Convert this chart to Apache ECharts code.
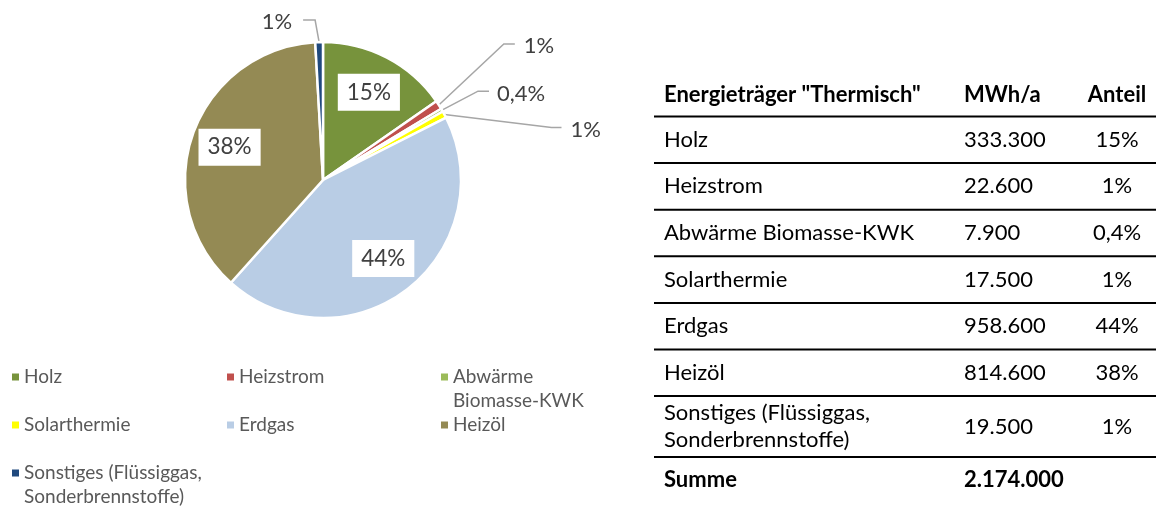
<!DOCTYPE html>
<html>
<head>
<meta charset="utf-8">
<script src="https://cdn.jsdelivr.net/npm/echarts@6/dist/echarts.min.js"></script>
<style>
  html, body { margin: 0; padding: 0; background: #fff; }
  #chart { width: 1156px; height: 509px; }
</style>
</head>
<body>
<div id="chart"></div>
<script>
// ---- data ----
const categories = ['Holz', 'Heizstrom', 'Abwärme Biomasse-KWK', 'Solarthermie', 'Erdgas', 'Heizöl', 'Sonstiges (Flüssiggas, Sonderbrennstoffe)'];
const valuesMWh = [333300, 22600, 7900, 17500, 958600, 814600, 19500];
const shareLabels = ['15%', '1%', '0,4%', '1%', '44%', '38%', '1%'];
const totalMWh = 2174000;
const tableHeaders = ['Energieträger "Thermisch"', 'MWh/a', 'Anteil'];
const totalLabel = 'Summe';
const colors = ['#77933C', '#C0504D', '#9BBB59', '#FFFF00', '#B9CDE5', '#948A54', '#1F497D'];

// ---- styling / layout ----
const FONT = 'Lato, "Open Sans", sans-serif';
const insideLabelIdx = [0, 4, 5];
// leader line: elbow offset from slice edge, horizontal run, gap to text, text vertical shift
const outsideLabelStyle = {
  1: { ex: 65, ey: -61, h: 11, gap: 9, ty: 2 },
  2: { ex: 36, ey: -19, h: 11, gap: 8, ty: 3 },
  3: { ex: 107, ey: 13, h: 10, gap: 9, ty: 2 },
  6: { ex: -4, ey: -22, h: -12, gap: 11, ty: 2 }
};

function fmt(n) { return String(n).replace(/\B(?=(\d{3})+(?!\d))/g, '.'); }

const chart = echarts.init(document.getElementById('chart'), null, { renderer: 'canvas' });

const pieCenter = [323, 180];
const pieR = 138;

const mainData = categories.map((name, i) => {
  const d = { name, value: valuesMWh[i], itemStyle: { color: colors[i] } };
  if (outsideLabelStyle[i]) {
    d.label = { show: true, position: 'outside' };
    d.labelLine = { show: true };
  }
  return d;
});
const labelData = categories.map((name, i) => ({
  name, value: valuesMWh[i],
  label: { show: insideLabelIdx.indexOf(i) >= 0 }
}));

// legend layout: three columns
const legendCols = [12, 227, 441];
const legendRows = { 0: [0, 0], 1: [1, 0], 2: [2, 0], 3: [0, 1], 4: [1, 1], 5: [2, 1], 6: [0, 2] };
const legendRowTop = [365, 413, 461];
const LH = 24;
function legendWrap(name) {
  if (name.indexOf(', ') >= 0) return name.replace(', ', ',\n');
  if (name.length > 16) return name.replace(' ', '\n');
  return name;
}
// square icon sitting on the first text line of a two-line legend entry
const twoLineIcon = 'path://M0,0L0,0M0,8.5L7,8.5L7,15.5L0,15.5ZM7,48L7,48';
const legends = categories.map((name, i) => {
  const [c, r] = legendRows[i];
  const wrapped = legendWrap(name).indexOf('\n') >= 0;
  return {
    data: [name],
    orient: 'vertical',
    left: legendCols[c],
    top: legendRowTop[r],
    padding: 0,
    icon: wrapped ? twoLineIcon : 'rect',
    itemWidth: 7,
    itemHeight: wrapped ? 2 * LH : 7,
    selectedMode: false,
    itemStyle: { borderWidth: 0 },
    formatter: legendWrap,
    textStyle: { fontFamily: FONT, fontSize: 19, color: '#595959', lineHeight: LH }
  };
});

// table
const T = { x1: 654, x2: 1156, textX: 664, valX: 964, shareX: 1117, headerY: 95, firstLine: 116.5, rowH: 46.6, tallRowH: 61, fs: 22 };
const g = [];
function txt(text, x, y, align, bold, lh) {
  g.push({
    type: 'text', silent: true,
    style: {
      text, x, y,
      fontFamily: FONT, fontSize: T.fs, fontWeight: bold ? 'bold' : 'normal',
      fill: '#000', lineHeight: lh || T.fs * 1.2,
      align, verticalAlign: 'middle', textAlign: align, textVerticalAlign: 'middle'
    }
  });
}
function hline(y) {
  g.push({ type: 'line', silent: true, shape: { x1: T.x1, y1: y, x2: T.x2, y2: y }, style: { stroke: '#000', lineWidth: 2 } });
}
txt(tableHeaders[0], T.textX, T.headerY, 'left', true);
txt(tableHeaders[1], T.valX, T.headerY, 'left', true);
txt(tableHeaders[2], T.shareX, T.headerY, 'center', true);
let lineY = T.firstLine;
hline(lineY);
categories.forEach((name, i) => {
  const wrapped = name.indexOf(', ') >= 0;
  const h = wrapped ? T.tallRowH : T.rowH;
  const cy = lineY + h / 2;
  txt(wrapped ? name.replace(', ', ',\n') : name, T.textX, cy, 'left', false, 27);
  txt(fmt(valuesMWh[i]), T.valX, cy, 'left', false);
  txt(shareLabels[i], T.shareX, cy, 'center', false);
  lineY += h;
  hline(lineY);
});
txt(totalLabel, T.textX, lineY + T.rowH / 2, 'left', true);
txt(fmt(totalMWh), T.valX, lineY + T.rowH / 2, 'left', true);

const option = {
  backgroundColor: '#fff',
  animation: false,
  legend: legends,
  graphic: { elements: g },
  series: [
    {
      name: 'Thermisch',
      type: 'pie',
      center: pieCenter,
      radius: [0, pieR],
      startAngle: 90,
      clockwise: true,
      avoidLabelOverlap: false,
      itemStyle: { borderColor: '#fff', borderWidth: 2.5 },
      label: {
        show: false,
        fontFamily: FONT, fontSize: 22, color: '#404040',
        formatter: p => shareLabels[p.dataIndex]
      },
      labelLine: { show: false, length: 10, length2: 10, lineStyle: { color: '#A6A6A6', width: 1.5 } },
      labelLayout: function (p) {
        const s = outsideLabelStyle[p.dataIndex];
        if (!s || !p.labelLinePoints) return {};
        const p0 = p.labelLinePoints[0];
        const p1 = [p0[0] + s.ex, p0[1] + s.ey];
        const p2 = [p1[0] + s.h, p1[1]];
        const right = s.h > 0;
        return {
          x: p2[0] + (right ? s.gap : -s.gap),
          y: p2[1] + s.ty,
          align: right ? 'left' : 'right',
          verticalAlign: 'middle',
          labelLinePoints: [p0, p1, p2]
        };
      },
      emphasis: { disabled: true },
      data: mainData
    },
    {
      name: 'Labels',
      type: 'pie',
      center: pieCenter,
      radius: [54, pieR],
      startAngle: 90,
      clockwise: true,
      silent: true,
      avoidLabelOverlap: false,
      itemStyle: { color: 'rgba(0,0,0,0)', borderWidth: 0 },
      label: {
        position: 'inside',
        fontFamily: FONT, fontSize: 22.5, color: '#404040',
        backgroundColor: '#fff', padding: [7, 9, 6, 9], lineHeight: 24,
        formatter: p => shareLabels[p.dataIndex]
      },
      labelLine: { show: false },
      emphasis: { disabled: true },
      data: labelData
    }
  ]
};
chart.setOption(option);
</script>
</body>
</html>
